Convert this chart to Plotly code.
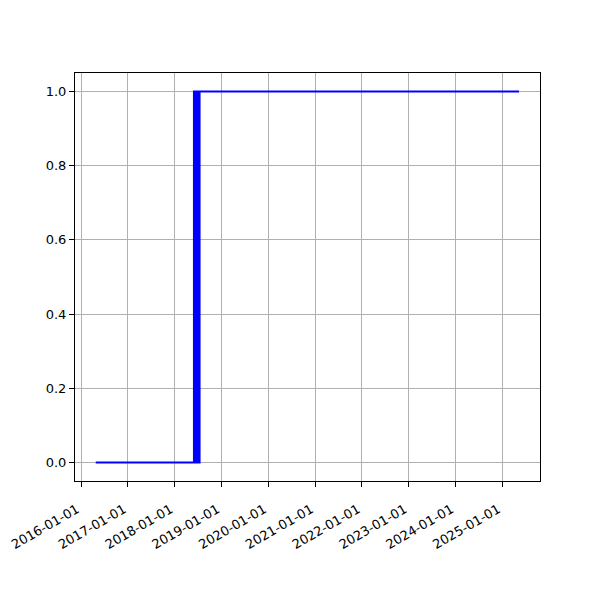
import plotly.graph_objects as go

dates = ["2016-04-25", "2018-06-01", "2018-06-11", "2018-06-21", "2018-07-01",
         "2018-07-14", "2025-05-12"]
values = [0, 1, 0, 1, 0, 1, 1]

tick_vals = ["2016-01-01", "2017-01-01", "2018-01-01", "2019-01-01", "2020-01-01",
             "2021-01-01", "2022-01-01", "2023-01-01", "2024-01-01", "2025-01-01"]
y_ticks = [0.0, 0.2, 0.4, 0.6, 0.8, 1.0]

fig = go.Figure()
fig.add_trace(go.Scatter(x=dates, y=values, mode="lines", line_shape="hv",
                         line=dict(color="#0000ff", width=2.1), showlegend=False))

axis_common = dict(showline=True, linecolor="black", linewidth=1, mirror=True,
                   ticks="outside", ticklen=5, tickcolor="black", automargin=False,
                   showgrid=True, gridcolor="#b0b0b0", gridwidth=1, zeroline=False,
                   tickfont=dict(family="DejaVu Sans", size=13, color="black"))

fig.update_layout(
    width=600, height=600,
    margin=dict(l=67, r=68, t=65, b=127),
    paper_bgcolor="white", plot_bgcolor="white",
    xaxis=dict(type="date", range=["2015-11-15", "2025-10-23"],
               tickvals=tick_vals, ticktext=tick_vals, tickangle=-30,
               ticklabelstandoff=10, ticklabelshift=-4, **axis_common),
    yaxis=dict(range=[-0.05, 1.05], tickvals=y_ticks, tickformat=".1f", **axis_common),
)
fig.write_html("out.html")
